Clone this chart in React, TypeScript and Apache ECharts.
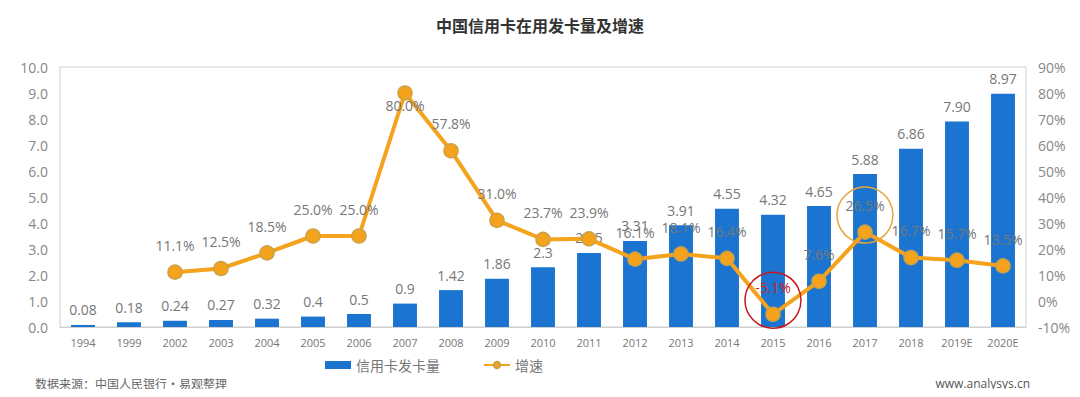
import React, { useEffect, useRef } from "react";
import * as echarts from "echarts";

const categories = ["1994", "1999", "2002", "2003", "2004", "2005", "2006", "2007", "2008", "2009", "2010", "2011", "2012", "2013", "2014", "2015", "2016", "2017", "2018", "2019E", "2020E"];
const cardValues = [0.08, 0.18, 0.24, 0.27, 0.32, 0.4, 0.5, 0.9, 1.42, 1.86, 2.3, 2.85, 3.31, 3.91, 4.55, 4.32, 4.65, 5.88, 6.86, 7.9, 8.97];
const cardLabels = ["0.08", "0.18", "0.24", "0.27", "0.32", "0.4", "0.5", "0.9", "1.42", "1.86", "2.3", "2.85", "3.31", "3.91", "4.55", "4.32", "4.65", "5.88", "6.86", "7.90", "8.97"];
const growthValues: (number | null)[] = [null, null, 11.1, 12.5, 18.5, 25.0, 25.0, 80.0, 57.8, 31.0, 23.7, 23.9, 16.1, 18.1, 16.4, -5.1, 7.6, 26.5, 16.7, 15.7, 13.5];

const FONT = "'Open Sans', 'Noto Sans CJK SC', sans-serif";

export default function App() {
  const ref = useRef<HTMLDivElement>(null);
  useEffect(() => {
    if (!ref.current) return;
    const chart = echarts.init(ref.current, null, { renderer: "svg" });
    chart.setOption({
      animation: false,
      textStyle: { fontFamily: FONT },
      title: {
        text: "中国信用卡在用发卡量及增速",
        left: "center",
        top: 12,
        textStyle: { fontSize: 16, fontWeight: "bold", color: "#333", fontFamily: "'Noto Sans CJK SC', sans-serif" },
      },
      legend: {
        top: 353,
        left: 320,
        itemGap: 43,
        itemWidth: 26,
        itemHeight: 8,
        textStyle: { fontSize: 14, color: "#777", fontFamily: "'Noto Sans CJK SC', sans-serif" },
        data: [
          { name: "信用卡发卡量", icon: "rect" },
          { name: "增速" },
        ],
      },
      grid: {
        left: 60,
        right: 54,
        top: 67,
        bottom: 70,
        show: true,
        borderColor: "#cfcfcf",
        borderWidth: 1,
      },
      xAxis: {
        type: "category",
        data: categories,
        axisLine: { lineStyle: { color: "#cfcfcf" } },
        axisTick: { show: false },
        axisLabel: { color: "#777", fontSize: 11, margin: 10, interval: 0 },
      },
      yAxis: [
        {
          type: "value",
          min: 0,
          max: 10,
          interval: 1,
          splitLine: { show: false },
          axisLine: { show: false },
          axisLabel: { color: "#888", fontSize: 14, formatter: (v: number) => v.toFixed(1), margin: 12 },
        },
        {
          type: "value",
          min: -10,
          max: 90,
          interval: 10,
          splitLine: { show: false },
          axisLine: { show: false },
          axisLabel: { color: "#888", fontSize: 14, formatter: (v: number) => v + "%", margin: 12 },
        },
      ],
      series: [
        {
          name: "信用卡发卡量",
          type: "bar",
          data: cardValues,
          barWidth: "52%",
          itemStyle: { color: "#1B75D0" },
          label: {
            show: true,
            position: "top",
            distance: 8,
            color: "#777",
            fontSize: 14,
            formatter: (p: any) => cardLabels[p.dataIndex],
          },
        },
        {
          name: "增速",
          type: "line",
          yAxisIndex: 1,
          data: growthValues.map((v, i) => {
            if (v !== null && v < 0) return { value: v, label: { color: "#D02020" } };
            if (categories[i] === "2007") return { value: v, label: { position: "inside", offset: [0, 12] } };
            return v;
          }),
          connectNulls: false,
          symbol: "circle",
          symbolSize: 14,
          lineStyle: { color: "#F5A21C", width: 4 },
          itemStyle: { color: "#F5A21C", borderColor: "#C9A24A", borderWidth: 1.5 },
          label: {
            show: true,
            position: "top",
            distance: 12,
            color: "#777",
            fontSize: 14,
            formatter: (p: any) => (p.value === null ? "" : Number(p.value).toFixed(1) + "%"),
          },
          markPoint: {
            silent: true,
            label: { show: false },
            data: [
              {
                coord: ["2015", -5.1],
                symbol: "circle",
                symbolSize: 56,
                symbolOffset: [0, -14],
                itemStyle: { color: "rgba(0,0,0,0)", borderColor: "#C8161D", borderWidth: 1.5 },
              },
              {
                coord: ["2017", 26.5],
                symbol: "circle",
                symbolSize: 56,
                symbolOffset: [0, -17],
                itemStyle: { color: "rgba(0,0,0,0)", borderColor: "#E8A33A", borderWidth: 1.5 },
              },
            ],
          },
        },
      ],
      graphic: [
        {
          type: "text",
          left: 35,
          top: 377,
          style: { text: "数据来源：中国人民银行•易观整理", fill: "#666", fontSize: 12, fontFamily: "'Noto Sans CJK SC', sans-serif" },
        },
        {
          type: "text",
          right: 50,
          top: 377,
          style: { text: "www.analysys.cn", fill: "#555", fontSize: 12, fontFamily: FONT },
        },
      ],
    });
    return () => chart.dispose();
  }, []);
  return <div ref={ref} style={{ width: 1080, height: 397, margin: -8 }} />;
}
